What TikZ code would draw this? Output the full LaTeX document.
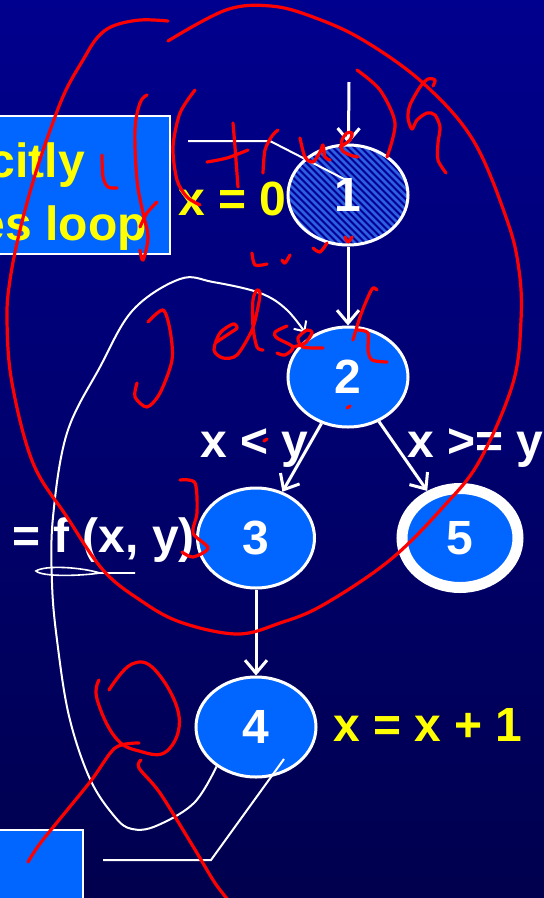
\documentclass[tikz,border=0pt]{standalone}
\usepackage{fontspec}
\setmainfont{Liberation Sans}
\usetikzlibrary{arrows.meta,shapes.geometric}

\definecolor{bgtop}{RGB}{0,0,142}
\definecolor{bgbot}{RGB}{0,0,78}
\definecolor{nblue}{RGB}{0,102,255}
\definecolor{hatchblue}{RGB}{45,95,225}
\definecolor{ylw}{RGB}{255,255,0}
\definecolor{pen}{RGB}{255,0,0}

\begin{document}
\begin{tikzpicture}[x=1pt,y=-1pt,>={Straight Barb[length=13pt,width=22pt]},
 every node/.style={font=\fontsize{48}{48}\selectfont\bfseries},
 blk/.style={ellipse,draw=white,line width=3pt,fill=nblue,text=white,minimum width=120pt,minimum height=100pt,inner sep=0pt},
 hatched/.style={fill={rgb,255:red,0;green,0;blue,150},path picture={\foreach \i in {-160,-153,...,160}
   \draw[hatchblue,line width=2.6pt] ([xshift=\i pt]path picture bounding box.center) ++(-70,-70) -- ++(140,140);}},
 panel/.style={draw=white,line width=2pt,fill=nblue,inner sep=0pt},
 lbl/.style={text=white,inner sep=0pt},
 ylbl/.style={text=ylw,inner sep=0pt},
 flow/.style={->,white,line width=3pt},
 ink/.style={white,line width=2pt},
 hand/.style={pen,line width=3.2pt,line cap=round,line join=round}]
\useasboundingbox (0,0) rectangle (544,898);
\shade[top color=bgtop,bottom color=bgbot] (0,0) rectangle (544,898);
\clip (0,0) rectangle (544,898);

% boxes at the left edge
\node[panel,minimum width=180pt,minimum height=138pt] (ltop) at (80,185) {};
\node[ylbl,anchor=base east] (t1) at (85,177) {citly};
\node[ylbl,anchor=base east] (t2) at (147,240) {es loop};
\node[panel,minimum width=95pt,minimum height=90pt] (lbot) at (35,875) {};

% flow graph
\node[blk,hatched] (n1) at (348,195) {1};
\node[blk] (n2) at (348,377) {2};
\node[blk,minimum width=117pt] (n3) at (256,538) {3};
\node[blk] (n4) at (256,727) {4};
\node[blk,line width=11pt,minimum width=116pt,minimum height=99pt] (n5) at (460,538) {5};

\node[ylbl,anchor=base west] (x0) at (178,215) {x = 0};
\node[ylbl,anchor=base west] (x1) at (333,741) {x = x + 1};
\node[lbl,anchor=base west] (lt) at (200,457) {x < y};
\node[lbl,anchor=base west] (ge) at (407,457) {x >= y};
\node[lbl,anchor=base east] (fy) at (195,552) {y = f (x, y)};

\coordinate (in1) at (349,82);
\draw[flow] (in1) -- (n1);
\draw[flow] (n1) -- (n2);
\draw[flow] (n2) -- (n3);
\draw[flow] (n2) -- (n5);
\draw[flow] (n3) -- (n4);

% thin white strokes
\draw[ink,->,>={Straight Barb[length=8pt,width=15pt]},shorten >=6pt] plot[smooth,tension=0.6] coordinates {(n4.225) (194,803) (156,826) (132,829) (115,817) (90,779) (69,716) (57,640) (52,583) (53,517) (67,433) (100,367) (133,310) (180,279) (213,282) (260,293) (287,310) (n2.135)};
\coordinate (c1) at (188,141);
\coordinate (c2) at (348,181);
\draw[ink] (c1) -- (270,141) -- (c2);
\coordinate (c3) at (103,860);
\coordinate (c4) at (284,759);
\draw[ink] (c3) -- (211,860) -- (c4);
\draw[ink,line width=1.6pt] (135,573) -- (100,573) .. controls (80,567) and (45,565) .. (36,571) .. controls (42,577) and (80,576) .. (100,573);

% red pen
\draw[hand] plot[smooth,tension=0.6] coordinates {(168,21) (140,20) (113,26) (97,38) (83,60) (66,90) (52,125) (35,175) (20,230) (10,280) (7,320) (12,383) (33,463) (67,517) (103,570) (140,600) (180,622) (237,634) (280,623) (323,605) (390,560) (445,505) (480,460) (513,383) (521,320) (519,270) (507,220) (473,140) (423,83) (363,40) (313,17) (271,6) (226,10) (168,41)};
\draw[hand] plot[smooth,tension=0.6] coordinates {(147,95) (140,103) (135,130) (137,180) (143,213) (148,237) (143,260) (140,250)};
\draw[hand] plot[smooth] coordinates {(157,202) (147,213) (140,227)};
\draw[hand] plot[smooth] coordinates {(102,155) (103,177) (108,187) (117,188)};
\draw[hand] plot[smooth] coordinates {(195,90) (180,113) (173,147) (177,180) (187,197) (200,205)};
\draw[hand] plot[smooth] coordinates {(233,123) (235,147) (238,187)};
\draw[hand] plot[smooth] coordinates {(207,162) (227,158) (248,150)};
\draw[hand] plot[smooth] coordinates {(263,173) (265,150) (272,136) (278,130)};
\draw[hand] plot[smooth] coordinates {(300,138) (305,157) (313,162) (320,152) (323,145) (325,157) (330,160)};
\draw[hand] plot[smooth] coordinates {(340,147) (350,140) (352,133) (347,133) (342,140) (342,150) (350,155) (358,157)};
\draw[hand] plot[smooth] coordinates {(357,70) (380,90) (395,123) (387,157)};
\draw[hand] plot[smooth] coordinates {(433,86) (435,80) (428,79) (420,87) (410,105) (408,118) (412,129) (417,120) (427,113) (435,115) (440,127) (438,143) (438,160) (446,173)};
\draw[hand] plot[smooth] coordinates {(252,253) (255,265) (267,264)};
\draw[hand] plot[smooth] coordinates {(282,260) (285,263) (290,255)};
\draw[hand] plot[smooth] coordinates {(313,248) (320,252) (327,243)};
\draw[hand] plot[smooth] coordinates {(345,237) (348,242) (352,237)};
\draw[hand] plot[smooth] coordinates {(148,322) (163,310) (170,330) (172,360) (160,393) (147,407) (135,397) (137,383)};
\draw[hand] plot[smooth] coordinates {(215,343) (230,333) (237,328) (233,324) (220,333) (214,350) (223,358) (237,355) (252,330) (258,307) (260,293) (257,290) (253,300) (253,327) (257,347) (263,350)};
\draw[hand] plot[smooth] coordinates {(287,326) (275,332) (277,338) (293,347) (285,355) (277,353)};
\draw[hand] plot[smooth] coordinates {(293,347) (305,343) (312,333) (307,330) (298,338) (303,347) (323,348)};
\draw[hand] plot[smooth] coordinates {(377,290) (373,288) (368,297) (360,317) (353,340)};
\draw[hand] plot[smooth] coordinates {(358,330) (368,333) (368,350) (372,360) (387,362)};
\draw[hand] plot[smooth] coordinates {(180,480) (195,483) (197,513) (193,533) (208,548) (193,557) (182,552)};
\draw[hand] plot[smooth,tension=0.7] coordinates {(109,690) (132,664) (156,671) (179,716) (167,751) (139,751) (115,737) (97,699) (99,680)};
\draw[hand] plot[smooth] coordinates {(139,743) (115,748) (90,782) (42,841) (28,862)};
\draw[hand] plot[smooth] coordinates {(141,760) (139,768) (160,793) (194,848) (215,883) (233,906)};
\draw[hand] (347,408) -- (350,406);
\draw[hand] (264,441) -- (267,439);
\end{tikzpicture}
\end{document}
